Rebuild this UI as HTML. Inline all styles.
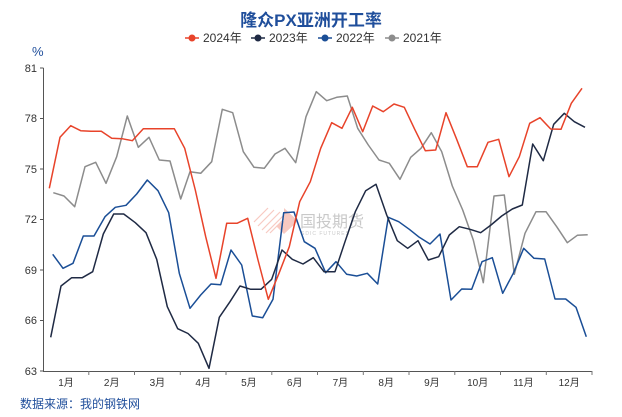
<!DOCTYPE html>
<html><head><meta charset="utf-8"><style>
html,body{margin:0;padding:0;background:#fff;width:622px;height:417px;overflow:hidden}
svg text{font-family:"Liberation Sans","Noto Sans CJK SC",sans-serif}
</style></head><body>
<svg width="622" height="417" viewBox="0 0 622 417" xmlns="http://www.w3.org/2000/svg">
<text x="311" y="26" text-anchor="middle" font-size="17" font-weight="bold" fill="#1f4e9b">隆众PX亚洲开工率</text>
<g font-size="12" fill="#333">
<line x1="185" y1="38" x2="199" y2="38" stroke="#e8432a" stroke-width="1.5"/><circle cx="192" cy="38" r="3.5" fill="#e8432a"/><text x="203" y="42">2024年</text>
<line x1="251" y1="38" x2="265" y2="38" stroke="#1f2a44" stroke-width="1.5"/><circle cx="258" cy="38" r="3.5" fill="#1f2a44"/><text x="269" y="42">2023年</text>
<line x1="318" y1="38" x2="332" y2="38" stroke="#1a4e96" stroke-width="1.5"/><circle cx="325" cy="38" r="3.5" fill="#1a4e96"/><text x="336" y="42">2022年</text>
<line x1="385" y1="38" x2="399" y2="38" stroke="#8c8c8c" stroke-width="1.5"/><circle cx="392" cy="38" r="3.5" fill="#8c8c8c"/><text x="403" y="42">2021年</text>
</g>
<text x="32" y="56" font-size="13" fill="#1f4e9b">%</text>
<g font-size="11" fill="#333" text-anchor="end">
<text x="37" y="72">81</text><text x="37" y="122">78</text><text x="37" y="173">75</text>
<text x="37" y="223">72</text><text x="37" y="274">69</text><text x="37" y="324">66</text><text x="37" y="375">63</text>
</g>
<g stroke="#555" stroke-width="1">
<line x1="43.5" y1="68" x2="43.5" y2="371"/>
<line x1="40" y1="68" x2="43.5" y2="68"/><line x1="40" y1="118.5" x2="43.5" y2="118.5"/><line x1="40" y1="169" x2="43.5" y2="169"/><line x1="40" y1="219.5" x2="43.5" y2="219.5"/><line x1="40" y1="270" x2="43.5" y2="270"/><line x1="40" y1="320.5" x2="43.5" y2="320.5"/><line x1="40" y1="371" x2="43.5" y2="371"/>
<line x1="43" y1="371.5" x2="592" y2="371.5"/>
</g>
<g stroke="#777" stroke-width="1">
<line x1="88.8" y1="371" x2="88.8" y2="375"/><line x1="134.5" y1="371" x2="134.5" y2="375"/><line x1="180.3" y1="371" x2="180.3" y2="375"/><line x1="226" y1="371" x2="226" y2="375"/><line x1="271.8" y1="371" x2="271.8" y2="375"/><line x1="317.5" y1="371" x2="317.5" y2="375"/><line x1="363.3" y1="371" x2="363.3" y2="375"/><line x1="409" y1="371" x2="409" y2="375"/><line x1="454.8" y1="371" x2="454.8" y2="375"/><line x1="500.5" y1="371" x2="500.5" y2="375"/><line x1="546.3" y1="371" x2="546.3" y2="375"/><line x1="592" y1="371" x2="592" y2="375"/>
</g>
<g font-size="10" fill="#333" text-anchor="middle">
<text x="66" y="386">1月</text><text x="111.7" y="386">2月</text><text x="157.4" y="386">3月</text><text x="203.2" y="386">4月</text><text x="248.9" y="386">5月</text><text x="294.7" y="386">6月</text><text x="340.4" y="386">7月</text><text x="386.2" y="386">8月</text><text x="431.9" y="386">9月</text><text x="477.7" y="386">10月</text><text x="523.4" y="386">11月</text><text x="569.2" y="386">12月</text>
</g>
<text x="20" y="408" font-size="12" fill="#1f4e9b">数据来源：我的钢铁网</text>
<g opacity="0.45">
<g stroke="#f08a78" stroke-width="1.2">
<line x1="254" y1="222" x2="268" y2="208"/><line x1="258" y1="226" x2="274" y2="210"/><line x1="262" y1="230" x2="280" y2="212"/><line x1="266" y1="233" x2="284" y2="215"/><line x1="270" y1="233" x2="288" y2="215"/>
</g>
<polygon points="284,208 298,221 284,234 276,226 284,221" fill="#f08a78"/>
<text x="300" y="227" font-size="16" fill="#888">国投期货</text>
<text x="301" y="235" font-size="5" fill="#888" letter-spacing="1">SDIC FUTURES</text>
</g>
<g fill="none" stroke-width="1.5" stroke-linejoin="round">
<polyline stroke="#8c8c8c" points="53.3,192.7 64,196 74.7,206.7 85,166.7 95.7,162.3 106,183.3 116.7,156.7 127.3,116 138.3,147.3 149,137.3 159.3,160 170,161 180.7,199 190,171.7 200.7,173.3 211.7,161.7 222.3,109.3 232.7,112.7 243.3,151.7 254,167.3 264.3,168.3 275,154 285,148.3 295.7,162.7 306,116.7 316.3,91.7 326.7,100.7 336.7,97.3 347.3,96 357.7,128.3 368.3,145 379,160 389.3,163.3 400,179.3 410.7,157.3 421,148.3 431.3,132.7 441.7,151.7 452.3,186 462.7,210 473.3,240 483.3,282.7 494,196 504.3,195 514.3,274.3 525,233.3 536,211.7 546,211.7 556.7,226.7 567.3,242.7 577.3,235.3 587.7,234.7"/>
<polyline stroke="#1a4e96" points="52.7,254.3 63,268.3 73,263.3 83.3,236 94,236 105,216.7 115.3,207.3 126,205.3 136.7,194 147.3,180 158,190.7 168.7,212.7 179.3,273.3 190,308.3 200.7,295 211,284 220.7,284.7 231,250 241.7,265 252.3,316 262.7,317.7 273,299.3 283.7,212.7 294,212 304.3,241.7 315,248.3 325.7,272.7 336,261.7 346.7,274.3 356.7,276 367.3,273.3 377.7,284 388.3,217.3 398.7,221.7 409.3,229.3 419.3,237.3 430,244 440,234 451,300 461.7,289 471.7,289.3 482,261.7 492.3,257.7 502.7,293.3 513.3,273.3 523.7,248.3 534,258.3 544.7,259 555,299 565.7,299 576,307.3 586.3,336.7"/>
<polyline stroke="#1f2a44" points="50.7,337.3 61,286 71.7,277.7 82.3,277.7 92.7,271.7 103.3,234 113.7,214 123.7,214 135.3,222.7 146,232.7 156.7,259.3 167.3,306.7 177.7,328.7 188,333.5 198.3,343.3 209,368.3 219.3,317.3 230,301.7 240,286 250.7,289.3 261,289.3 271.7,279.3 282,250 292.3,259.3 303,264 313.3,257.7 324,271.7 335,271.7 345,241.7 355.3,211.7 365.7,190.7 376,184.3 386.7,215 397.3,240.7 407.7,248.3 418,240.7 428.3,260 438.7,256.7 449.3,235 459.3,226.7 470,229.3 480.7,232.7 491,225 501.7,216 512.3,209 522.3,205 532.7,144 543.3,160.7 553.7,124.3 564.3,113.3 574.3,121.7 585,127.3"/>
<polyline stroke="#e8432a" points="49.3,188.3 60,137.3 70.7,125.7 80.7,130.7 91,131.3 101.3,131.3 111.7,138.3 122,138.7 132.3,140.7 143.3,128.7 153.7,128.7 164,128.7 174.3,128.7 184.7,148.3 195.3,190 205.7,236.7 216,278.3 226.7,223.3 237,223.3 247.7,218.3 258,260 268.3,299.3 279,273.3 289.3,246.7 299.7,201.7 310.3,181.7 320.7,148.3 331.7,122.7 342,128.3 352.3,107.3 362.7,131.7 372.7,106 383.3,111.7 394,104 404.3,107.3 414.7,129.3 425.3,150.7 435.7,150 446,112.7 456.3,138.3 467.3,166.7 477.3,166.7 488,142.3 498.7,139.3 509,176.7 519.3,156.7 529.7,123.3 540,117.7 550.7,129 561,129.3 571.3,103.3 582,88.3"/>
</g>
</svg>
</body></html>
